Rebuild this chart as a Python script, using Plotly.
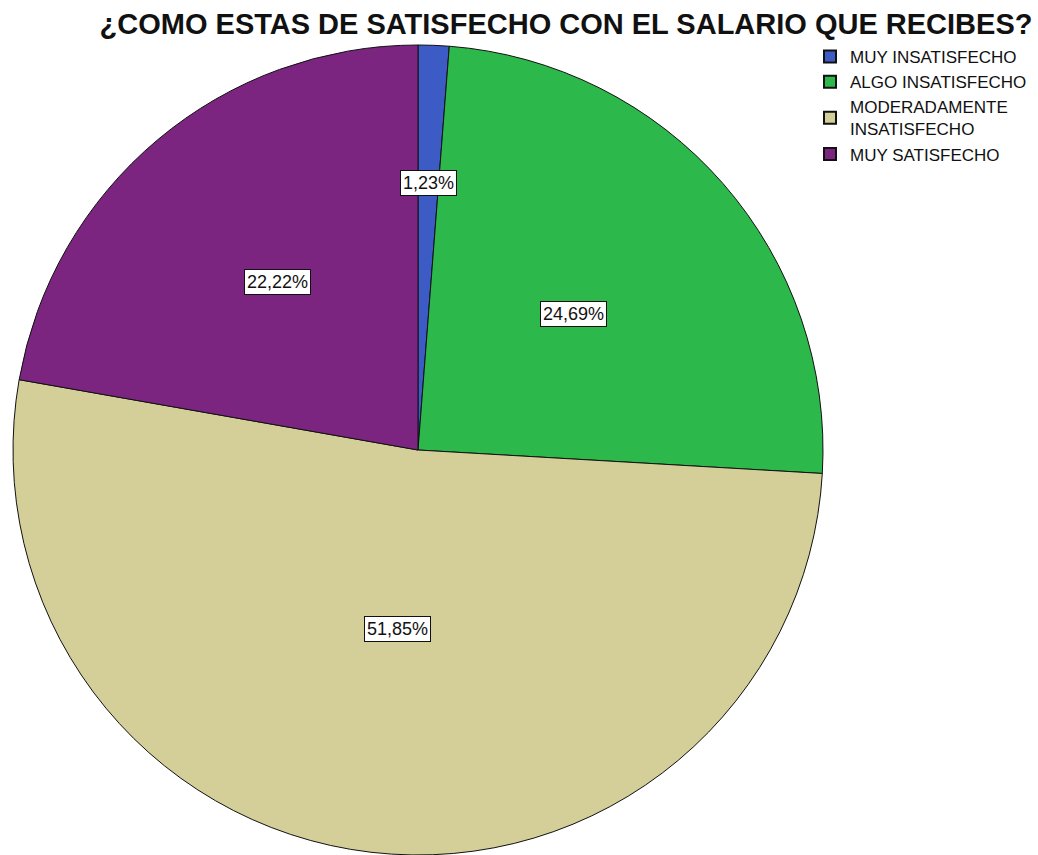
import numpy as np
import plotly.graph_objects as go

# Survey responses: satisfaction with salary
categories = ["MUY INSATISFECHO", "ALGO INSATISFECHO",
              "MODERADAMENTE<br>INSATISFECHO", "MUY SATISFECHO"]
percentages = [1.23, 24.69, 51.85, 22.22]
label_texts = ["1,23%", "24,69%", "51,85%", "22,22%"]

# Styling
colors = ["#3D5BC4", "#2DB84B", "#D4CF98", "#7B2580"]
label_radius = [0.66, 0.51, 0.445, 0.54]  # label distance as fraction of radius
FONT = "Liberation Sans, Arial"

W, H = 1038, 855
cx, cy, r = 418, 450, 405  # pie centre and radius in pixels

fig = go.Figure(go.Pie(
    labels=categories,
    values=percentages,
    sort=False,
    direction="clockwise",
    rotation=0,
    marker=dict(colors=colors, line=dict(color="#111111", width=1)),
    textinfo="none",
    hoverinfo="label+percent",
    domain=dict(x=[(cx - r) / W, (cx + r) / W],
                y=[1 - (cy + r) / H, 1 - (cy - r) / H]),
))

# Boxed value labels placed at each slice's mid-angle
vals = np.array(percentages)
cum = np.cumsum(vals) - vals / 2
angles = cum / vals.sum() * 2 * np.pi
for txt, a, f in zip(label_texts, angles, label_radius):
    px = cx + f * r * np.sin(a)
    py = cy - f * r * np.cos(a)
    fig.add_annotation(
        x=px / W, y=1 - py / H, xref="paper", yref="paper",
        xanchor="center", yanchor="middle",
        text=txt, showarrow=False,
        font=dict(family=FONT, size=18, color="#111111"),
        bgcolor="white", bordercolor="#111111", borderwidth=1, borderpad=2,
    )

fig.update_layout(
    width=W, height=H,
    margin=dict(l=0, r=0, t=0, b=0),
    paper_bgcolor="white",
    title=dict(text="<b>¿COMO ESTAS DE SATISFECHO CON EL SALARIO QUE RECIBES?</b>",
               x=566 / W, xanchor="center", y=1 - 24 / H, yanchor="middle",
               font=dict(family=FONT, size=29, color="#111111")),
    legend=dict(x=810 / W, y=1 - 39 / H, xanchor="left", yanchor="top",
                font=dict(family=FONT, size=17, color="#111111"),
                itemsizing="constant", tracegroupgap=0, bgcolor="rgba(0,0,0,0)"),
    showlegend=True,
)

fig.write_html("out.html")
